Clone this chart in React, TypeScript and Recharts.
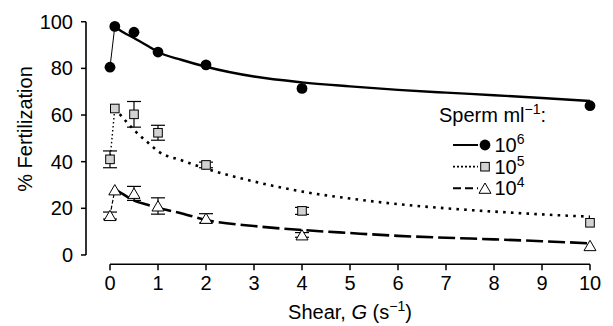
import React from 'react';
import {
  ComposedChart, XAxis, YAxis, Line, Scatter, ErrorBar, ReferenceLine,
} from 'recharts';

const FONT = 'Liberation Sans, Arial, Helvetica, sans-serif';

// Measured shear levels
const shearX = [0, 0.1, 0.5, 1, 2, 4, 10];
// % fertilization by sperm concentration
const fert1e6 = [80.5, 98, 95.5, 87, 81.5, 71.4, 64];
const err1e6 = [0, 0, 0, 0, 0, 0, 0];
const fert1e5 = [41, 62.8, 60.3, 52.4, 38.6, 18.9, 13.8];
const err1e5 = [3.6, 0, 5.5, 3.2, 1.2, 1.5, 0];
const fert1e4 = [16.9, 27.9, 26.4, 21, 15.7, 8.6, 4];
const err1e4 = [1.5, 0, 3, 3.5, 2, 1, 0];

// Fitted curves
const fitX = [0.1, 0.2, 0.5, 0.8, 1, 1.5, 2, 3, 4, 5, 6, 7, 8, 9, 10];
const fit1e6 = [98, 96.5, 93, 89.5, 87, 83.6, 80.7, 76.5, 74, 72.3, 70.8, 69.6, 68.5, 67.3, 66];
const fit1e5 = [63, 60.5, 53.6, 48, 44.5, 40.5, 37, 31.5, 27.2, 24.2, 21.8, 20, 18.6, 17.4, 16.4];
const fit1e4 = [28.3, 27, 23.3, 21.4, 20.2, 17.8, 15, 12.4, 10.7, 9.4, 8.2, 7.4, 6.7, 5.9, 5];

const xTicks = [0, 1, 2, 3, 4, 5, 6, 7, 8, 9, 10];
const yTicks = [0, 20, 40, 60, 80, 100];
const legendTitle = 'Sperm ml';
const legendLabels = ['6', '5', '4'];

const X_MIN = -0.5;
const X_MAX = 10.25;
const Y_MIN = -4;
const Y_MAX = 104;

const pts = (ys: number[], errs: number[]) => shearX.map((x, i) => ({ x, y: ys[i], err: errs[i] }));
const curve = (ys: number[]) => fitX.map((x, i) => ({ x, y: ys[i] }));
const connector = (ys: number[]) => shearX.slice(0, 2).map((x, i) => ({ x, y: ys[i] }));

const Circle = (cx: number, cy: number) => <circle cx={cx} cy={cy} r={5.4} fill="#000" />;
const Square = (cx: number, cy: number) => (
  <rect x={cx - 4.3} y={cy - 4.3} width={8.6} height={8.6} fill="#d2d2d2" stroke="#000" strokeWidth={1} />
);
const Triangle = (cx: number, cy: number) => (
  <path d={`M${cx},${cy - 5.3} L${cx + 6},${cy + 5} L${cx - 6},${cy + 5} Z`} fill="#fff" stroke="#000" strokeWidth={1} />
);

const shapeFn = (f: (cx: number, cy: number) => React.ReactElement) => (props: any) => f(props.cx, props.cy);

const legendRows = [
  { y: 145, dash: undefined as string | undefined, mark: Circle, w: 2 },
  { y: 166.7, dash: '2 2', mark: Square, w: 1.8 },
  { y: 188.3, dash: '8 4', mark: Triangle, w: 2 },
];

const FS = 20;
const SUP = 14;

export default function App() {
  return (
    <div style={{ position: 'absolute', left: 0, top: 0, background: '#fff' }}>
      <ComposedChart
        width={613}
        height={326}
        margin={{ top: 12.4, right: 11, bottom: 21.7, left: 26 }}
      >
        <XAxis
          dataKey="x"
          type="number"
          domain={[X_MIN, X_MAX]}
          ticks={xTicks}
          allowDataOverflow
          axisLine={false}
          tickLine={{ stroke: '#000', strokeWidth: 1.5 }}
          tickSize={6}
          tickMargin={5}
          height={40}
          tick={{ fontSize: FS, fill: '#000', fontFamily: FONT }}
          interval={0}
        />
        <YAxis
          dataKey="y"
          type="number"
          domain={[Y_MIN, Y_MAX]}
          ticks={yTicks}
          allowDataOverflow
          axisLine={false}
          tickLine={{ stroke: '#000', strokeWidth: 1.5 }}
          tickSize={5}
          tickMargin={8}
          width={60}
          tick={{ fontSize: FS, fill: '#000', fontFamily: FONT }}
          interval={0}
        />
        <ReferenceLine segment={[{ x: X_MIN, y: 0 }, { x: X_MIN, y: 100 }]} stroke="#000" strokeWidth={1.6} />
        <ReferenceLine segment={[{ x: 0, y: Y_MIN }, { x: 10, y: Y_MIN }]} stroke="#000" strokeWidth={1.6} />

        <Line data={connector(fert1e6)} dataKey="y" stroke="#000" strokeWidth={1} dot={false} isAnimationActive={false} />
        <Line data={connector(fert1e5)} dataKey="y" stroke="#000" strokeWidth={1.4} strokeDasharray="1.5 2.5" dot={false} isAnimationActive={false} />
        <Line data={connector(fert1e4)} dataKey="y" stroke="#000" strokeWidth={1.2} strokeDasharray="4 2" dot={false} isAnimationActive={false} />

        <Line data={curve(fit1e6)} dataKey="y" type="monotone" stroke="#000" strokeWidth={2.4} dot={false} isAnimationActive={false} />
        <Line data={curve(fit1e5)} dataKey="y" type="monotone" stroke="#000" strokeWidth={2.6} strokeDasharray="2.6 5.2" dot={false} isAnimationActive={false} />
        <Line data={curve(fit1e4)} dataKey="y" type="monotone" stroke="#000" strokeWidth={2.6} strokeDasharray="17 5" dot={false} isAnimationActive={false} />

        <Scatter data={pts(fert1e6, err1e6)} shape={shapeFn(Circle)} isAnimationActive={false} />
        <Scatter data={pts(fert1e5, err1e5)} shape={shapeFn(Square)} isAnimationActive={false}>
          <ErrorBar dataKey="err" direction="y" width={7} stroke="#000" strokeWidth={1.2} />
        </Scatter>
        <Scatter data={pts(fert1e4, err1e4)} shape={shapeFn(Triangle)} isAnimationActive={false}>
          <ErrorBar dataKey="err" direction="y" width={7} stroke="#000" strokeWidth={1.2} />
        </Scatter>

        <g fontFamily={FONT} fill="#000">
          <text
            x={32}
            y={129}
            fontSize={FS}
            textAnchor="middle"
            transform="rotate(-90, 32, 129)"
          >
            % Fertilization
          </text>
          <text x={350} y={319} fontSize={FS} textAnchor="middle">
            <tspan>Shear, </tspan>
            <tspan fontStyle="italic">G</tspan>
            <tspan> (s</tspan>
            <tspan dy={-8} fontSize={SUP}>−1</tspan>
            <tspan dy={8}>)</tspan>
          </text>
          <text x={439} y={122} fontSize={FS}>
            <tspan>{legendTitle}</tspan>
            <tspan dy={-8} fontSize={SUP}>−1</tspan>
            <tspan dy={8}>:</tspan>
          </text>
          {legendRows.map((r, i) => (
            <g key={i}>
              <line x1={453} x2={478} y1={r.y} y2={r.y} stroke="#000" strokeWidth={r.w} strokeDasharray={r.dash} />
              {r.mark(485, r.y)}
              <text x={494.5} y={r.y + 6.8} fontSize={FS}>
                <tspan>10</tspan>
                <tspan dy={-8} fontSize={SUP}>{legendLabels[i]}</tspan>
              </text>
            </g>
          ))}
        </g>
      </ComposedChart>
    </div>
  );
}
